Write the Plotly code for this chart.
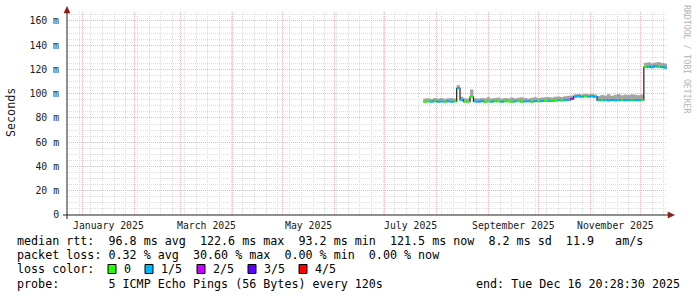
import plotly.graph_objects as go
import pandas as pd

# ---------------- data ----------------
END = pd.Timestamp("2025-12-16 20:28:30")
SPAN_DAYS = 359.07
start_time = END - pd.Timedelta(days=SPAN_DAYS)

sample_dates = pd.date_range("2025-07-24", periods=73, freq="2D")

median_ms = [
    93.4, 93.6, 93.5, 93.7, 93.5, 93.6, 93.4, 93.7, 93.5, 93.6,
    104.5, 95.0, 93.5, 93.4, 97.5,
    93.6, 93.5, 93.7, 93.4, 93.6, 93.5, 93.8, 93.6, 93.5, 93.7, 93.6,
    93.4, 93.6, 93.8, 93.5, 93.6, 93.7, 93.5, 93.8, 93.6, 93.9,
    94.0, 94.2, 93.9, 94.3, 94.5, 94.4, 94.8, 95.0,
    95.8,
    97.6, 97.8, 97.5, 97.9, 97.6, 97.8, 97.4,
    94.6, 94.5, 94.8, 94.4, 94.7, 94.5, 94.6, 94.9, 94.5, 94.7, 94.6, 94.8, 94.5, 94.7,
    122.0, 122.3, 121.8, 122.6, 122.2, 121.9, 121.5,
]

smoke_hi_ms = [
    96.0, 96.3, 95.8, 96.4, 96.1, 96.5, 95.9, 96.2, 96.4, 96.0,
    107.0, 97.5, 96.2, 96.0, 103.5,
    96.3, 96.0, 96.5, 96.2, 97.0, 96.1, 96.4, 96.8, 96.0, 96.5, 96.3,
    96.9, 96.2, 96.6, 97.2, 96.4, 96.1, 96.7, 97.0, 96.5, 96.8,
    97.0, 97.4, 96.9, 97.6, 97.8, 97.3, 98.0, 98.3,
    98.5,
    99.5, 99.8, 99.3, 100.0, 99.6, 99.9, 99.4,
    98.2, 99.0, 98.6, 99.5, 98.4, 99.2, 99.8, 98.7, 99.4, 98.9, 99.6, 99.1, 98.8, 99.3,
    125.5, 126.0, 125.2, 125.8, 126.2, 125.4, 125.0,
]

# lost pings out of 5 per sample
loss_count = [
    0, 0, 1, 0, 1, 1, 0, 1, 1, 0,
    1, 1, 0, 0, 0,
    1, 1, 1, 0, 0, 1, 0, 0, 1, 0, 0,
    0, 1, 0, 0, 1, 1, 0, 1, 0, 1,
    0, 1, 0, 0, 1, 0, 1, 1,
    2,
    1, 1, 1, 0, 1, 1, 1,
    1, 0, 1, 1, 1, 1, 1, 0, 1, 1, 0, 1, 1, 0,
    0, 1, 1, 1, 0, 1, 1,
]

loss_labels = ["0", "1/5", "2/5", "3/5", "4/5"]
loss_colors = ["#26ff00", "#00b8ff", "#c800ff", "#5e00ff", "#ff0000"]

y_tick_vals = [0, 20, 40, 60, 80, 100, 120, 140, 160]
y_tick_text = ["0", "20 m", "40 m", "60 m", "80 m", "100 m", "120 m", "140 m", "160 m"]

month_label_dates = ["2025-01-16 12:00", "2025-03-16 12:00", "2025-05-16 12:00",
                     "2025-07-16 12:00", "2025-09-16 00:00", "2025-11-16 00:00"]
month_label_text = ["January 2025", "March 2025", "May 2025",
                    "July 2025", "September 2025", "November 2025"]

rtt_stats = ["96.8", "122.6", "93.2", "121.5", "8.2", "11.9"]
loss_stats = ["0.32", "30.60", "0.00", "0.00"]
probe_text = "5 ICMP Echo Pings (56 Bytes) every 120s"
end_text = "end: Tue Dec 16 20:28:30 2025"

# ---------------- geometry helpers ----------------
PL, PR, PT, PB = 67, 667, 12, 215
W, H = 697, 297


def px(x):
    return (x - PL) / (PR - PL)


def py(y):
    return (PB - y) / (PB - PT)


MONO = "DejaVu Sans Mono"

fig = go.Figure()

ext_dates = list(sample_dates) + [END]
ext_median = median_ms + [median_ms[-1]]
ext_hi = smoke_hi_ms + [smoke_hi_ms[-1]]

# smoke
fig.add_trace(go.Scatter(x=ext_dates, y=ext_median, mode="lines", line=dict(width=0, shape="hv"),
                         hoverinfo="skip", showlegend=False))
fig.add_trace(go.Scatter(x=ext_dates, y=ext_hi, mode="lines", line=dict(width=0, shape="hv"),
                         fill="tonexty", fillcolor="#a4a4a4", hoverinfo="skip", showlegend=False))
# dark median line
fig.add_trace(go.Scatter(x=ext_dates, y=ext_median, mode="lines",
                         line=dict(width=1.2, shape="hv", color="#202020"),
                         hoverinfo="skip", showlegend=False))
# loss coloured median segments
for k, col in enumerate(loss_colors):
    xs, ys = [], []
    for i, m in enumerate(median_ms):
        if loss_count[i] == k:
            xs += [ext_dates[i], ext_dates[i + 1], None]
            ys += [m, m, None]
    if xs:
        fig.add_trace(go.Scatter(x=xs, y=ys, mode="lines", line=dict(width=2, color=col),
                                 hoverinfo="skip", showlegend=False, connectgaps=False))

MINOR_GRID = "#dcdcdc"
MAJOR_GRID = "#ebb9b9"
DASH = "1px,1px"

fig.update_xaxes(
    type="date", range=[start_time, END], showticklabels=False, ticks="",
    showgrid=True, dtick="M1", tick0="2025-01-01", gridcolor=MAJOR_GRID, griddash=DASH, gridwidth=1,
    minor=dict(dtick=7 * 86400000, tick0="2025-01-06", showgrid=True, gridcolor=MINOR_GRID,
               griddash=DASH, gridwidth=1),
    zeroline=False, showline=False, fixedrange=True,
)
fig.update_yaxes(
    range=[0, 167.4], tickvals=y_tick_vals, ticktext=y_tick_text,
    ticks="outside", ticklen=5, tickcolor="rgba(0,0,0,0)",
    tickfont=dict(family=MONO, size=9.8, color="#202020"),
    showgrid=True, gridcolor=MAJOR_GRID, griddash=DASH, gridwidth=1,
    minor=dict(dtick=5, tick0=0, showgrid=True, gridcolor=MINOR_GRID, griddash=DASH, gridwidth=1),
    zeroline=False, showline=False, fixedrange=True,
)

shapes = []
AXC = "#202020"
ARC = "#8b1a1a"
shapes.append(dict(type="line", xref="paper", yref="paper", x0=px(63), x1=px(669), y0=py(215), y1=py(215),
                   line=dict(color=AXC, width=1)))
shapes.append(dict(type="line", xref="paper", yref="paper", x0=px(67), x1=px(67), y0=py(219), y1=py(12),
                   line=dict(color=AXC, width=1)))
shapes.append(dict(type="path", xref="paper", yref="paper",
                   path=f"M {px(67)},{py(6.5)} L {px(64)},{py(13)} L {px(70)},{py(13)} Z",
                   fillcolor=ARC, line=dict(color=ARC, width=0.5)))
shapes.append(dict(type="path", xref="paper", yref="paper",
                   path=f"M {px(674.5)},{py(215)} L {px(668)},{py(212)} L {px(668)},{py(218)} Z",
                   fillcolor=ARC, line=dict(color=ARC, width=0.5)))

annotations = []
LEG = 11.7


def nb(s):
    return s.replace(" ", "\u00a0")


def text_at(x, y, s, size=LEG, anchor="left", color="#000000", angle=0, yanchor="middle"):
    annotations.append(dict(x=px(x), y=py(y), xref="paper", yref="paper", text=nb(s), showarrow=False,
                            xanchor=anchor, yanchor=yanchor, borderpad=0, textangle=angle,
                            font=dict(family=MONO, size=size, color=color)))


for d, t in zip(month_label_dates, month_label_text):
    annotations.append(dict(x=pd.Timestamp(d), y=py(225), xref="x", yref="paper", text=nb(t),
                            showarrow=False, xanchor="center", yanchor="middle", borderpad=0,
                            font=dict(family=MONO, size=9.8, color="#202020")))

line1 = (f"median rtt:  {rtt_stats[0]} ms avg  {rtt_stats[1]} ms max  {rtt_stats[2]} ms min  "
         f"{rtt_stats[3]} ms now  {rtt_stats[4]} ms sd  {rtt_stats[5]}   am/s")
line2 = (f"packet loss: {loss_stats[0]} % avg  {loss_stats[1]} % max  {loss_stats[2]} % min  "
         f"{loss_stats[3]} % now")
text_at(16, 241, line1)
text_at(16, 255, line2)
text_at(16, 269, "loss color:")
text_at(16, 284, "probe:       " + probe_text)
text_at(681, 284, end_text, anchor="right")

sw_x = [108, 145, 197, 248, 299]
txt_x = [123, 160, 212, 263, 314]
for k, lab in enumerate(loss_labels):
    shapes.append(dict(type="rect", xref="paper", yref="paper", x0=px(sw_x[k]), x1=px(sw_x[k] + 8),
                       y0=py(273.5), y1=py(264.5), fillcolor=loss_colors[k], line=dict(color="#000000", width=1)))
    text_at(txt_x[k], 269, lab)

# y axis title
text_at(11, 113, "Seconds", anchor="center", angle=-90, color="#202020")
# watermark
text_at(687, 59, "RRDTOOL / TOBI OETIKER", size=8.2, anchor="center", angle=90, color="#b4b4b4")

fig.update_layout(
    width=W, height=H, margin=dict(l=PL, r=W - PR, t=PT, b=H - PB, pad=0),
    paper_bgcolor="#ffffff", plot_bgcolor="#ffffff",
    shapes=shapes, annotations=annotations, showlegend=False,
)

fig.write_html("out.html", config={"displayModeBar": False})
